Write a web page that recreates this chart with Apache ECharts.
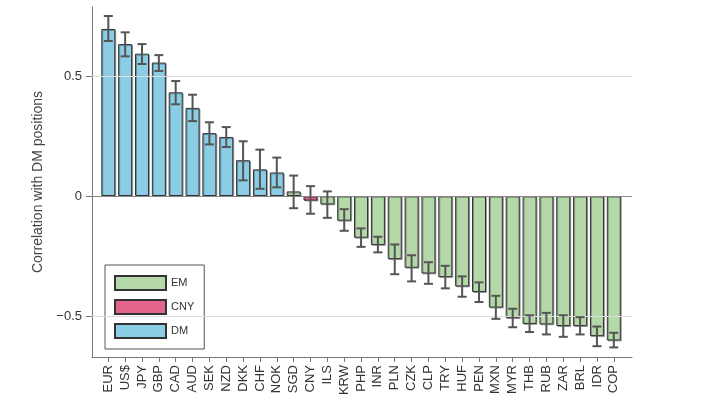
<!DOCTYPE html>
<html>
<head>
<meta charset="utf-8">
<script src="https://cdn.jsdelivr.net/npm/echarts@6/dist/echarts.min.js"></script>
<style>
  html, body { margin: 0; padding: 0; background: #fff; }
  #chart { width: 717px; height: 405px; }
</style>
</head>
<body>
<div id="chart"></div>
<script>
// currencies, ordered as in the figure
var categories = ["EUR", "US$", "JPY", "GBP", "CAD", "AUD", "SEK", "NZD", "DKK", "CHF", "NOK",
  "SGD", "CNY", "ILS", "KRW", "PHP", "INR", "PLN", "CZK", "CLP", "TRY", "HUF", "PEN",
  "MXN", "MYR", "THB", "RUB", "ZAR", "BRL", "IDR", "COP"];
var groups = ["DM", "DM", "DM", "DM", "DM", "DM", "DM", "DM", "DM", "DM", "DM",
  "EM", "CNY", "EM", "EM", "EM", "EM", "EM", "EM", "EM", "EM", "EM", "EM",
  "EM", "EM", "EM", "EM", "EM", "EM", "EM", "EM"];
var corr = [0.696, 0.633, 0.593, 0.556, 0.432, 0.367, 0.262, 0.246, 0.149, 0.111, 0.098,
  0.019, -0.019, -0.035, -0.103, -0.174, -0.204, -0.263, -0.299, -0.323, -0.338, -0.377, -0.400,
  -0.465, -0.509, -0.533, -0.535, -0.542, -0.542, -0.584, -0.602];
var lower = [0.646, 0.582, 0.550, 0.521, 0.382, 0.312, 0.215, 0.204, 0.065, 0.030, 0.036,
  -0.051, -0.074, -0.091, -0.145, -0.212, -0.235, -0.326, -0.356, -0.366, -0.385, -0.420, -0.442,
  -0.512, -0.547, -0.567, -0.577, -0.587, -0.577, -0.626, -0.631];
var upper = [0.750, 0.682, 0.633, 0.587, 0.479, 0.422, 0.307, 0.287, 0.228, 0.193, 0.160,
  0.085, 0.041, 0.019, -0.055, -0.135, -0.170, -0.202, -0.247, -0.276, -0.291, -0.335, -0.360,
  -0.416, -0.470, -0.497, -0.487, -0.497, -0.505, -0.544, -0.570];
var yTicks = [-0.5, 0, 0.5];

var colors = { EM: "#b5d8a9", CNY: "#e5648c", DM: "#8ccde6" };

function groupData(g) {
  var out = [];
  corr.forEach(function (v, i) {
    if (groups[i] === g) out.push([i, v]);
  });
  return out;
}

function barSeries(g) {
  return {
    name: g,
    type: "bar",
    barWidth: 14,
    barGap: "-100%",
    itemStyle: {
      color: colors[g],
      borderColor: "#333",
      borderWidth: 1,
      shadowColor: "rgba(0,0,0,0.3)",
      shadowOffsetX: 1,
      shadowOffsetY: 1
    },
    data: groupData(g)
  };
}

var errData = categories.map(function (c, i) { return [i, lower[i], upper[i]]; });
var catIdx = categories.map(function (c, i) { return i; });

var option = {
  animation: false,
  textStyle: { fontFamily: "Liberation Sans" },
  grid: { left: 92, right: 85, top: 7, bottom: 48 },
  legend: {
    orient: "vertical",
    left: 105,
    top: 265,
    data: ["EM", "CNY", "DM"],
    icon: "rect",
    itemWidth: 51,
    itemHeight: 14,
    itemGap: 8,
    padding: [10, 10, 10, 9],
    borderColor: "#555",
    borderWidth: 1,
    backgroundColor: "#fff",
    textStyle: { fontSize: 11, color: "#333" }
  },
  xAxis: {
    type: "value",
    min: -0.967,
    max: 31.08,
    splitLine: { show: false },
    axisLine: { show: true, onZero: false, lineStyle: { color: "#777" } },
    axisTick: { show: true, length: 5, lineStyle: { color: "#777" }, customValues: catIdx },
    axisLabel: {
      rotate: 90,
      margin: 8,
      fontSize: 13,
      color: "#333",
      customValues: catIdx,
      formatter: function (v) { return categories[Math.round(v)]; }
    }
  },
  yAxis: {
    type: "value",
    min: -0.671,
    max: 0.7875,
    name: "Correlation with DM positions",
    nameLocation: "middle",
    nameGap: 46,
    nameTextStyle: { fontSize: 14, color: "#444" },
    splitLine: { show: false },
    axisLine: { show: true, onZero: false, lineStyle: { color: "#777" } },
    axisTick: { show: true, length: 6, lineStyle: { color: "#777" }, customValues: yTicks },
    axisLabel: {
      fontSize: 13,
      color: "#333",
      margin: 10,
      customValues: yTicks,
      formatter: function (v) { return v < 0 ? "\u2212" + Math.abs(v) : String(v); }
    }
  },
  series: [
    {
      type: "line",
      data: [],
      silent: true,
      markLine: {
        symbol: "none",
        silent: true,
        label: { show: false },
        data: [
          { yAxis: 0.5, lineStyle: { color: "#ddd", width: 1, type: "solid" } },
          { yAxis: -0.5, lineStyle: { color: "#ddd", width: 1, type: "solid" } },
          { yAxis: 0, lineStyle: { color: "#888", width: 1, type: "solid" } }
        ]
      }
    },
    barSeries("EM"),
    barSeries("CNY"),
    barSeries("DM"),
    {
      type: "custom",
      z: 10,
      data: errData,
      renderItem: function (params, api) {
        var x = api.value(0);
        var lo = api.coord([x, api.value(1)]);
        var hi = api.coord([x, api.value(2)]);
        var half = 4.5;
        var style = { stroke: "#555", lineWidth: 2 };
        return {
          type: "group",
          children: [
            { type: "line", shape: { x1: lo[0], y1: lo[1], x2: hi[0], y2: hi[1] }, style: style },
            { type: "line", shape: { x1: lo[0] - half, y1: lo[1], x2: lo[0] + half, y2: lo[1] }, style: style },
            { type: "line", shape: { x1: hi[0] - half, y1: hi[1], x2: hi[0] + half, y2: hi[1] }, style: style }
          ]
        };
      }
    }
  ]
};

var chart = echarts.init(document.getElementById("chart"));
chart.setOption(option);
</script>
</body>
</html>
